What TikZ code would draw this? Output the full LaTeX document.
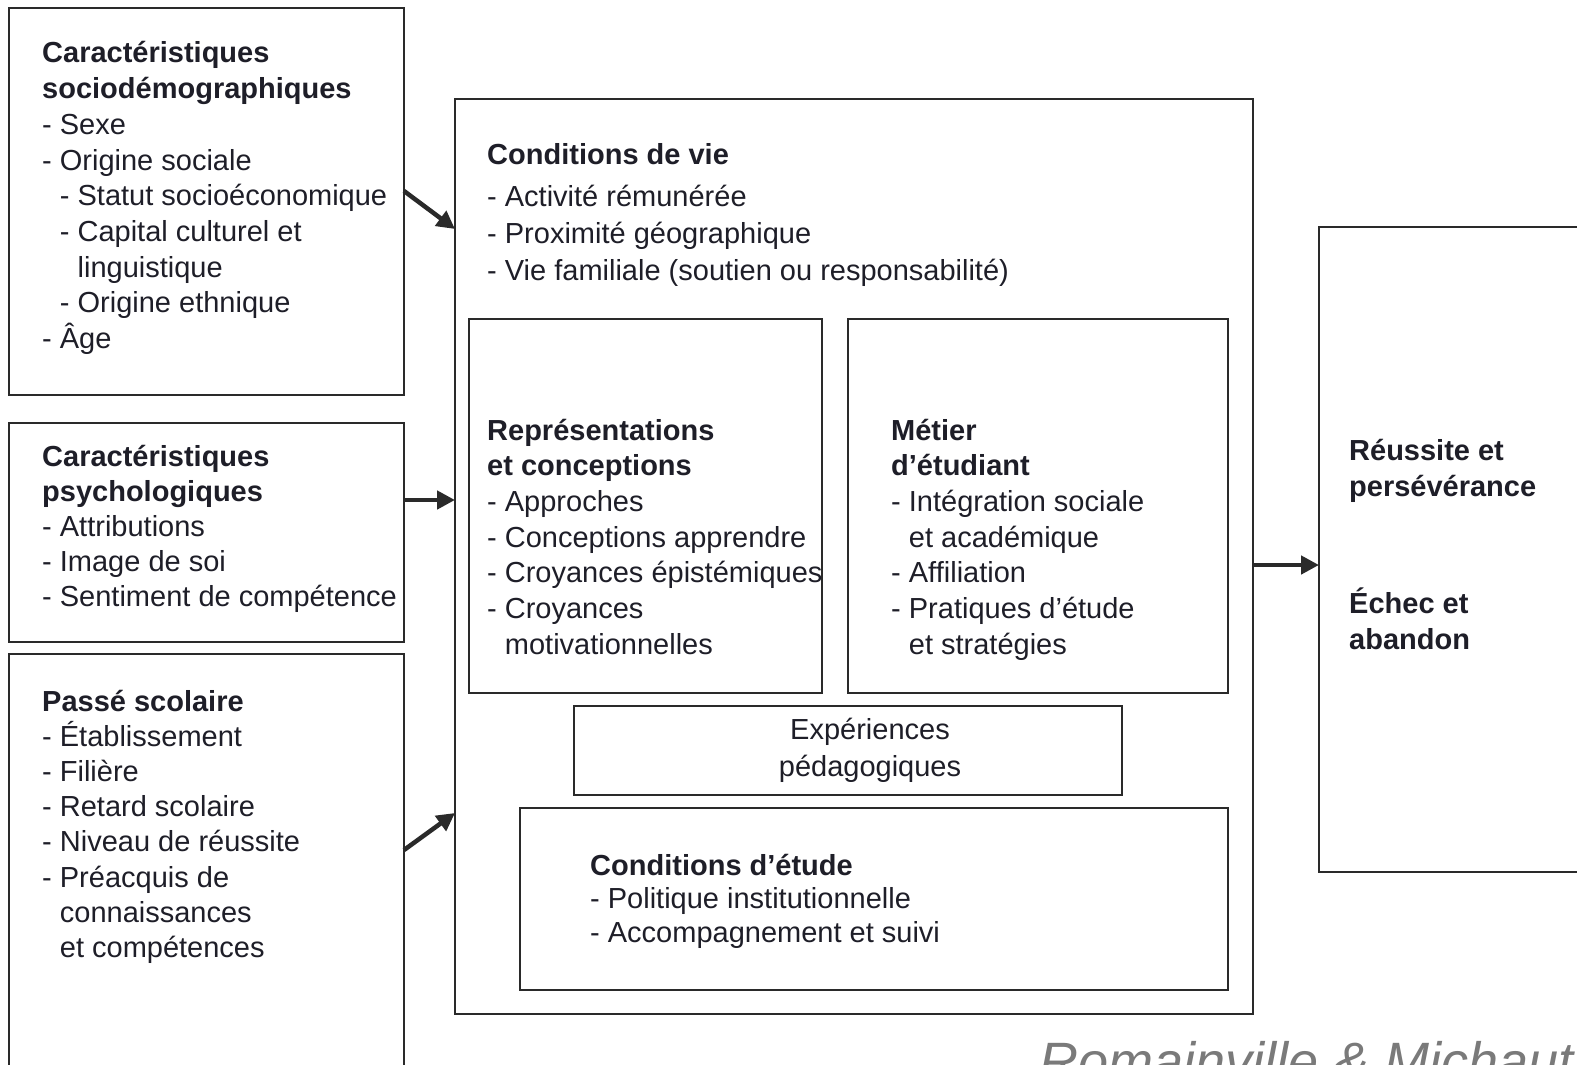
\documentclass[tikz,border=0pt]{standalone}
\usepackage{fontspec}
\setmainfont{Liberation Sans}
\usetikzlibrary{arrows.meta}
\definecolor{txt}{HTML}{1E1E28}
\definecolor{edge}{HTML}{2A2A2A}
\definecolor{capgray}{HTML}{7A7A7A}
\newcommand{\blk}[2]{\parbox[t]{800pt}{\fontsize{29}{#1}\selectfont\raggedright #2}}
\newcommand{\cblk}[2]{\parbox[t]{800pt}{\fontsize{29}{#1}\selectfont\centering #2}}
\newcommand{\ind}{\phantom{- }}
\begin{document}
\begin{tikzpicture}[x=1pt,y=-1pt,
  box/.style={draw=edge,line width=2.5pt,anchor=north west,inner sep=0pt,outer sep=0pt},
  txtnode/.style={anchor=base west,inner sep=0pt,text=txt},
  arr/.style={draw=edge,line width=4.5pt,-{Triangle[length=18pt,width=18pt]}}]
\useasboundingbox (0,0) rectangle (1577,1065);
\clip (0,0) rectangle (1577,1065);
\fill[white] (0,0) rectangle (1577,1065);
% boxes
\node[box,minimum width=395,minimum height=387] (b1) at (9,8) {};
\node[box,minimum width=395,minimum height=219] (b2) at (9,423) {};
\node[box,minimum width=395,minimum height=460] (b3) at (9,654) {};
\node[box,minimum width=798,minimum height=915] (main) at (455,99) {};
\node[box,minimum width=353,minimum height=374] (rep) at (469,319) {};
\node[box,minimum width=380,minimum height=374] (met) at (848,319) {};
\node[box,minimum width=548,minimum height=89] (exp) at (574,706) {};
\node[box,minimum width=708,minimum height=182] (cde) at (520,808) {};
\node[box,minimum width=320,minimum height=645] (res) at (1319,227) {};
% texts
\node[txtnode] (t1) at (42,63) {\blk{35.7pt}{\textbf{Caractéristiques}\\\textbf{sociodémographiques}\\- Sexe\\- Origine sociale\\\ind - Statut socioéconomique\\\ind - Capital culturel et\\\ind\ind linguistique\\\ind - Origine ethnique\\- Âge}};
\node[txtnode] (t2) at (42,466) {\blk{35.2pt}{\textbf{Caractéristiques}\\\textbf{psychologiques}\\- Attributions\\- Image de soi\\- Sentiment de compétence}};
\node[txtnode] (t3) at (42,711) {\blk{35.2pt}{\textbf{Passé scolaire}\\- Établissement\\- Filière\\- Retard scolaire\\- Niveau de réussite\\- Préacquis de\\\ind connaissances\\\ind et compétences}};
\node[txtnode] (tm1) at (487,164) {\blk{37pt}{\textbf{Conditions de vie}}};
\node[txtnode] (tm2) at (487,206) {\blk{37pt}{- Activité rémunérée\\- Proximité géographique\\- Vie familiale (soutien ou responsabilité)}};
\node[txtnode] (trep) at (487,440) {\blk{35.7pt}{\textbf{Représentations}\\\textbf{et conceptions}\\- Approches\\- Conceptions apprendre\\- Croyances épistémiques\\- Croyances\\\ind motivationnelles}};
\node[txtnode] (tmet) at (891,440) {\blk{35.7pt}{\textbf{Métier}\\\textbf{d'étudiant}\\- Intégration sociale\\\ind et académique\\- Affiliation\\- Pratiques d'étude\\\ind et stratégies}};
\node[anchor=base,inner sep=0pt,text=txt] (texp) at (870,739) {\cblk{37pt}{Expériences\\pédagogiques}};
\node[txtnode] (tcde) at (590,875) {\blk{33.7pt}{\textbf{Conditions d'étude}\\- Politique institutionnelle\\- Accompagnement et suivi}};
\node[txtnode] (tr1) at (1349,460) {\blk{36pt}{\textbf{Réussite et}\\\textbf{persévérance}}};
\node[txtnode] (tr2) at (1349,613) {\blk{36pt}{\textbf{Échec et}\\\textbf{abandon}}};
\node[anchor=base west,inner sep=0pt,text=capgray,font=\fontsize{54}{60}\selectfont\itshape] (cap) at (1039,1080) {Romainville \& Michaut};
% arrows
\coordinate (a1s) at (b1.east |- 0,191);
\coordinate (a1e) at (main.west |- 0,229);
\coordinate (a2s) at (b2.east |- 0,500);
\coordinate (a2e) at (main.west |- 0,500);
\coordinate (a3s) at (b3.east |- 0,850);
\coordinate (a3e) at (main.west |- 0,813);
\coordinate (a4s) at (main.east |- 0,565);
\coordinate (a4e) at (res.west |- 0,565);
\draw[arr] (a1s) -- (a1e);
\draw[arr] (a2s) -- (a2e);
\draw[arr] (a3s) -- (a3e);
\draw[arr] (a4s) -- (a4e);
\end{tikzpicture}
\end{document}
